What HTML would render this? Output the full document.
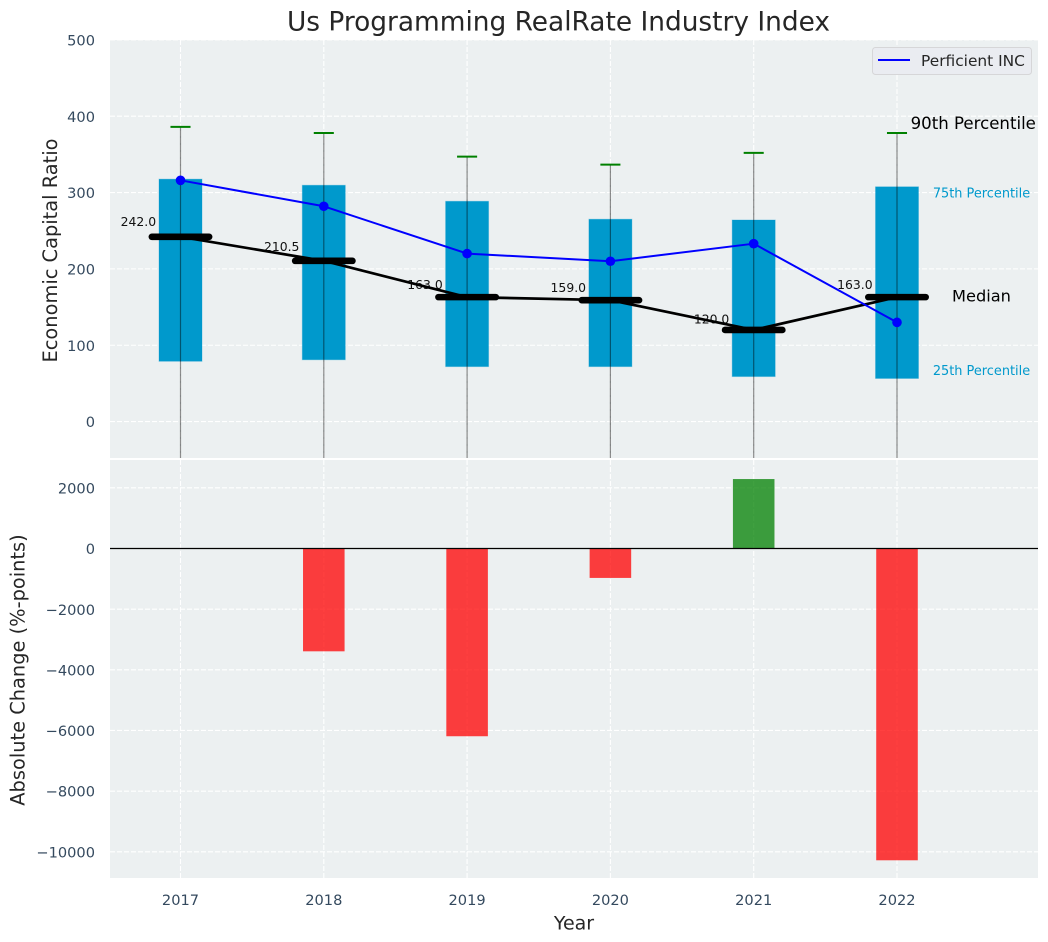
<!DOCTYPE html>
<html lang="en">
<head>
<meta charset="utf-8">
<title>Us Programming RealRate Industry Index</title>
<style>
html,body{margin:0;padding:0;background:#fff;width:1048px;height:942px;overflow:hidden}
svg{display:block;font-family:"DejaVu Sans","Liberation Sans",sans-serif}
</style>
</head>
<body>
<svg id="chart" xmlns="http://www.w3.org/2000/svg" width="1048" height="942" viewBox="0 0 1048 942">
  <defs>
    <clipPath id="clip-top"><rect x="110" y="40" width="928" height="418"/></clipPath>
    <clipPath id="clip-bottom"><rect x="110" y="460" width="928" height="418"/></clipPath>
  </defs>
  <rect x="0" y="0" width="1048" height="942" fill="#ffffff"/>
  <rect x="110" y="40" width="928" height="418" fill="#ecf0f1"/>
  <rect x="110" y="460" width="928" height="418" fill="#ecf0f1"/>
  <g id="grid-layer"></g>
  <g id="top-marks" clip-path="url(#clip-top)"></g>
  <g id="bottom-marks" clip-path="url(#clip-bottom)"></g>
  <g id="tick-layer"></g>
  <g id="annotation-layer"></g>
  <text x="558.5" y="30.5" text-anchor="middle" font-size="26.4" fill="#262626">Us Programming RealRate Industry Index</text>
  <text x="574" y="929.5" text-anchor="middle" font-size="19" fill="#262626">Year</text>
  <text transform="translate(57,250.5) rotate(-90)" text-anchor="middle" font-size="19.4" fill="#262626">Economic Capital Ratio</text>
  <text transform="translate(24.5,670) rotate(-90)" text-anchor="middle" font-size="19.4" fill="#262626">Absolute Change (%-points)</text>
  <g>
    <rect x="872.5" y="47.5" width="159" height="27" rx="3" ry="3" fill="#eaecf1" stroke="#d6d6d8" stroke-width="1"/>
    <line x1="878" y1="60" x2="910" y2="60" stroke="#0000ff" stroke-width="2"/>
    <text x="921" y="66" font-size="15.4" fill="#262626">Perficient INC</text>
  </g>
</svg>
<script>
const years = [2017, 2018, 2019, 2020, 2021, 2022];
const p90 = [386, 378, 347, 336.5, 352, 378];
const p75 = [317.5, 309.5, 288.5, 265, 264, 307.5];
const medianValues = [242.0, 210.5, 163.0, 159.0, 120.0, 163.0];
const p25 = [79, 81, 72, 72, 59, 56.5];
const p10 = [-120, -110, -100, -105, -130, -115];
const perficient = [316, 282, 220, 210, 233, 130];
const changes = [null, -3390, -6190, -970, 2290, -10280];
const topTicks = [0, 100, 200, 300, 400, 500];
const bottomTicks = [2000, 0, -2000, -4000, -6000, -8000, -10000];

const NS = 'http://www.w3.org/2000/svg';
const xAxis = v => 180.5 + (v - 2017) * 143.3;
const yTop = v => 421.6 - v * 0.7636;
const yBottom = v => 548.5 - v * 0.03033;

function make(parent, tag, attrs, text) {
  const el = document.createElementNS(NS, tag);
  for (const k in attrs) el.setAttribute(k, attrs[k]);
  if (text !== undefined) el.textContent = text;
  parent.appendChild(el);
  return el;
}

const gridLayer = document.getElementById('grid-layer');
const topMarks = document.getElementById('top-marks');
const bottomMarks = document.getElementById('bottom-marks');
const tickLayer = document.getElementById('tick-layer');
const annotations = document.getElementById('annotation-layer');
const gridStyle = { stroke: '#ffffff', 'stroke-width': 1.1, 'stroke-dasharray': '5 2' };

topTicks.forEach(t => {
  const y = yTop(t);
  const g = make(gridLayer, 'line', Object.assign({ x1: 110, x2: 1038, y1: y, y2: y }, gridStyle));
  
  
  const l = make(tickLayer, 'text', { x: 95, y: y + 5.6, 'text-anchor': 'end', 'font-size': 14.6, fill: '#34495e' }, String(t));
  
  
});

bottomTicks.forEach(t => {
  const y = yBottom(t);
  const g = make(gridLayer, 'line', Object.assign({ x1: 110, x2: 1038, y1: y, y2: y }, gridStyle));
  
  
  const label = t < 0 ? '\u2212' + Math.abs(t) : String(t);
  const l = make(tickLayer, 'text', { x: 95, y: y + 5.6, 'text-anchor': 'end', 'font-size': 14.6, fill: '#34495e' }, label);
  
  
});

years.forEach(yr => {
  const x = xAxis(yr);
  const a = make(gridLayer, 'line', Object.assign({ x1: x, x2: x, y1: 40, y2: 458 }, gridStyle));
  
  
  const b = make(gridLayer, 'line', Object.assign({ x1: x, x2: x, y1: 460, y2: 878 }, gridStyle));
  
  
  const l = make(tickLayer, 'text', { x: x, y: 905, 'text-anchor': 'middle', 'font-size': 14.6, fill: '#34495e' }, String(yr));
  
  
});

years.forEach((yr, i) => {
  const x0 = xAxis(yr - 0.15);
  const x1 = xAxis(yr + 0.15);
  const box = make(topMarks, 'rect', { x: x0, y: yTop(p75[i]), width: x1 - x0, height: yTop(p25[i]) - yTop(p75[i]), fill: '#0099cc', stroke: '#0099cc', 'stroke-opacity': 0.3, 'stroke-width': 1 });
  
  
});

years.forEach((yr, i) => {
  const t = make(topMarks, 'text', { x: xAxis(yr - 0.17), y: yTop(medianValues[i]) - (2.2 + 0.0365 * medianValues[i]), 'text-anchor': 'end', 'font-size': 12.4, fill: '#111111' }, medianValues[i].toFixed(1));
  
  
});

years.forEach((yr, i) => {
  const x = xAxis(yr);
  const w = make(topMarks, 'line', { x1: x, x2: x, y1: yTop(p90[i]), y2: yTop(p10[i]), stroke: '#000000', 'stroke-opacity': 0.45, 'stroke-width': 1.2 });
  
  
  const c = make(topMarks, 'line', { x1: xAxis(yr - 0.07), x2: xAxis(yr + 0.07), y1: yTop(p90[i]), y2: yTop(p90[i]), stroke: '#008000', 'stroke-width': 2 });
  
  
});

const medianLine = make(topMarks, 'polyline', {
  points: years.map((yr, i) => xAxis(yr) + ',' + yTop(medianValues[i])).join(' '),
  fill: 'none', stroke: '#000000', 'stroke-width': 2.7, 'stroke-linejoin': 'round'
});



years.forEach((yr, i) => {
  const y = yTop(medianValues[i]);
  const m = make(topMarks, 'line', { x1: xAxis(yr - 0.2), x2: xAxis(yr + 0.2), y1: y, y2: y, stroke: '#000000', 'stroke-width': 6.6, 'stroke-linecap': 'round' });
  
  
});

const perficientLine = make(topMarks, 'polyline', {
  points: years.map((yr, i) => xAxis(yr) + ',' + yTop(perficient[i])).join(' '),
  fill: 'none', stroke: '#0000ff', 'stroke-width': 2, 'stroke-linejoin': 'round'
});



years.forEach((yr, i) => {
  const p = make(topMarks, 'circle', { cx: xAxis(yr), cy: yTop(perficient[i]), r: 4.8, fill: '#0000ff' });
  
  
});

years.forEach((yr, i) => {
  if (changes[i] === null) return;
  const v = changes[i];
  const x0 = xAxis(yr - 0.145);
  const x1 = xAxis(yr + 0.145);
  const top = Math.min(yBottom(0), yBottom(v));
  const h = Math.abs(yBottom(v) - yBottom(0));
  const b = make(bottomMarks, 'rect', { x: x0, y: top, width: x1 - x0, height: h, fill: v < 0 ? '#ff0000' : '#008000', 'fill-opacity': 0.75 });
  
  
});

const zeroLine = make(bottomMarks, 'line', { x1: 110, x2: 1038, y1: yBottom(0), y2: yBottom(0), stroke: '#000000', 'stroke-width': 1.2 });



const last = years.length - 1;
const lastYear = years[last];

const note90 = make(annotations, 'text', { x: xAxis(lastYear + 0.095), y: yTop(p90[last] + 5), 'font-size': 16.6, fill: '#000000' }, '90th Percentile');



const note75 = make(annotations, 'text', { x: xAxis(lastYear + 0.25), y: yTop(p75[last] - 14), 'font-size': 12.9, fill: '#0099cc' }, '75th Percentile');



const noteMedian = make(annotations, 'text', { x: xAxis(lastYear + 0.384), y: yTop(medianValues[last] - 6), 'font-size': 16.2, fill: '#000000' }, 'Median');



const note25 = make(annotations, 'text', { x: xAxis(lastYear + 0.25), y: yTop(p25[last] + 4.5), 'font-size': 12.9, fill: '#0099cc' }, '25th Percentile');


</script>
</body>
</html>
